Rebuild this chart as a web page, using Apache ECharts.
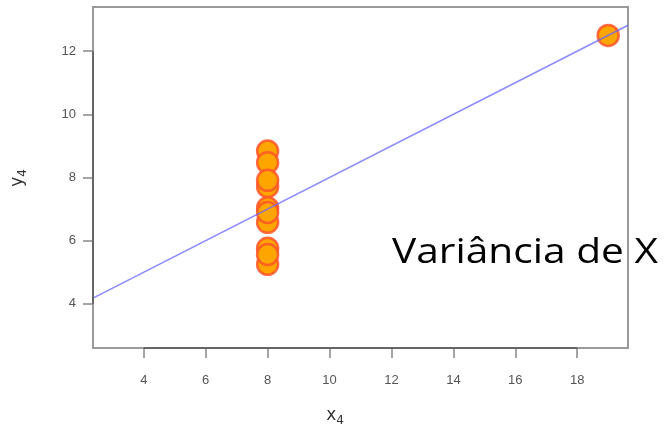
<!DOCTYPE html>
<html><head><meta charset="utf-8">
<script src="https://cdn.jsdelivr.net/npm/echarts@6/dist/echarts.min.js"></script>
<style>html,body{margin:0;padding:0;background:#fff}#c{width:666px;height:433px}</style>
</head><body><div id="c"></div>
<script>
// Anscombe quartet, set IV
const x4 = [8, 8, 8, 8, 8, 8, 8, 19, 8, 8, 8];
const y4 = [6.58, 5.76, 7.71, 8.84, 8.47, 7.04, 5.25, 12.50, 5.56, 7.91, 6.89];
const xTicks = [4, 6, 8, 10, 12, 14, 16, 18];
const yTicks = [4, 6, 8, 10, 12];
const xRange = [2.36, 19.64];
const yRange = [2.6, 13.4];
const fitX = [2.36, 19.64];
const fitY = [4.18, 12.82];
const overlayText = 'Variância de X';

const bigFont = '35px "Open Sans"';
const mctx = document.createElement('canvas').getContext('2d');
mctx.font = bigFont;
const bigScale = 266 / mctx.measureText(overlayText).width;

const chart = echarts.init(document.getElementById('c'), null, {renderer: 'canvas'});
const tickFont = {fontFamily: 'Liberation Sans', fontSize: 13, color: '#555'};
chart.setOption({
  animation: false,
  grid: {left: 93, right: 38, top: 7, bottom: 85, show: true, borderColor: '#9a9a9a', borderWidth: 2, backgroundColor: 'transparent'},
  xAxis: {
    type: 'value', min: xRange[0], max: xRange[1],
    splitLine: {show: false},
    axisLine: {show: false},
    axisTick: {show: true, customValues: xTicks, length: 10, lineStyle: {color: '#888', width: 1.5}},
    axisLabel: {customValues: xTicks, margin: 26, ...tickFont}
  },
  yAxis: {
    type: 'value', min: yRange[0], max: yRange[1],
    splitLine: {show: false},
    axisLine: {show: false},
    axisTick: {show: true, customValues: yTicks, length: 10, lineStyle: {color: '#888', width: 1.5}},
    axisLabel: {customValues: yTicks, margin: 17, ...tickFont}
  },
  series: [
    {
      type: 'line', data: fitX.map((x, i) => [x, fitY[i]]), symbol: 'none', clip: true,
      lineStyle: {color: 'rgba(100,100,255,0.75)', width: 1.6}, z: 3
    },
    {
      type: 'scatter', data: x4.map((x, i) => [x, y4[i]]), symbolSize: 21,
      itemStyle: {color: '#FFA500', borderColor: 'rgba(255,85,40,0.85)', borderWidth: 2.5, opacity: 1}, z: 2
    }
  ]
});

function px(v) { return chart.convertToPixel({gridIndex: 0}, v); }
const xa = px([xTicks[0], yRange[0]]), xb = px([xTicks[xTicks.length - 1], yRange[0]]);
const ya = px([xRange[0], yTicks[0]]), yb = px([xRange[0], yTicks[yTicks.length - 1]]);
const labRich = {a: {fontFamily: 'DejaVu Sans', fontSize: 17, fill: '#333'}, s: {fontFamily: 'DejaVu Sans', fontSize: 12, fill: '#333', padding: [10, 0, 0, 0]}};
chart.setOption({
  graphic: [
    {type: 'line', shape: {x1: xa[0], y1: xa[1], x2: xb[0], y2: xb[1]}, style: {stroke: '#666', lineWidth: 2}, z: 10},
    {type: 'line', shape: {x1: ya[0], y1: ya[1], x2: yb[0], y2: yb[1]}, style: {stroke: '#666', lineWidth: 2}, z: 10},
    {type: 'text', x: 335, y: 416, style: {text: '{a|x}{s|4}', align: 'center', verticalAlign: 'middle', rich: labRich}},
    {type: 'text', x: 18, y: 178, rotation: Math.PI / 2, style: {text: '{a|y}{s|4}', align: 'center', verticalAlign: 'middle', rich: labRich}},
    {type: 'text', x: 392, y: 236, scaleX: bigScale, z: 20, style: {
      text: overlayText, font: bigFont, fill: '#000', verticalAlign: 'top'
    }}
  ]
});
</script></body></html>
